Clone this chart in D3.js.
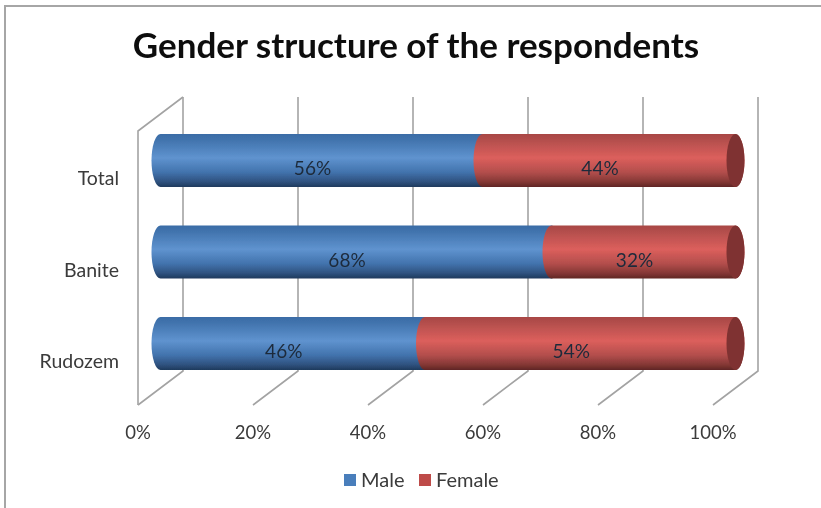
<!DOCTYPE html>
<html><head><meta charset="utf-8">
<script src="https://cdn.jsdelivr.net/npm/d3@7/dist/d3.min.js"></script>
<style>html,body{margin:0;padding:0;background:#fff}svg{display:block}text{font-family:Lato,"Open Sans",sans-serif}</style>
</head><body><div id="c"></div>
<script>
const categories = ["Rudozem", "Banite", "Total"];
const male = [46, 68, 56];
const female = [54, 32, 44];
const ticks = [0, 20, 40, 60, 80, 100];
const seriesNames = ["Male", "Female"];
const W = 821, H = 508;

const svg = d3.select("#c").append("svg").attr("width", W).attr("height", H);
const defs = svg.append("defs");
const soft = defs.append("filter").attr("id", "soft").attr("x", "-5%").attr("y", "-5%").attr("width", "110%").attr("height", "110%");
soft.append("feGaussianBlur").attr("stdDeviation", 0.5);

function grad(id, stops) {
  const g = defs.append("linearGradient").attr("id", id).attr("x1", 0).attr("y1", 0).attr("x2", 0).attr("y2", 1);
  stops.forEach(s => g.append("stop").attr("offset", s[0]).attr("stop-color", s[1]));
}
grad("gM", [[0, "#3a6ca6"], [0.12, "#4274ae"], [0.45, "#5f93cf"], [0.72, "#4273ad"], [0.9, "#2f527f"], [1, "#1e3a5c"]]);
grad("gF", [[0, "#a84644"], [0.12, "#b44f4d"], [0.45, "#dc5f5c"], [0.72, "#b34e4c"], [0.9, "#843735"], [1, "#5f2624"]]);

const root = svg.append("g").attr("filter", "url(#soft)");

root.append("path").attr("d", `M5,${H}V6H${W}`).attr("fill", "none").attr("stroke", "#a6a6a6").attr("stroke-width", 2);

const xFront = d3.scaleLinear().domain([0, 100]).range([138, 713]);
const xBack = d3.scaleLinear().domain([0, 100]).range([183, 758]);
const xBar = d3.scaleLinear().domain([0, 100]).range([160.5, 735.5]);
const xLabel = d3.scaleLinear().domain([0, 100]).range([151.5, 726.5]);
const y = d3.scaleBand().domain(categories).range([370, 134]).paddingInner(0.42).paddingOuter(0);
const rx = 9;
const yTopBack = 97, yTopFront = 131, yBotBack = 371, yBotFront = 405;

const grid = root.append("g").attr("fill", "none").attr("stroke", "#a3a3a3").attr("stroke-width", 1.6);
ticks.forEach(t => {
  grid.append("path").attr("d", `M${xFront(t)},${yBotFront}L${xBack(t)},${yBotBack}V${yTopBack}`);
});
grid.append("path").attr("d", `M${xFront(0)},${yBotFront}V${yTopFront}L${xBack(0)},${yTopBack}`);

const rows = categories.map((c, i) => ({ c, m: male[i], f: female[i] }));
const bars = root.append("g");
rows.forEach(d => {
  const yT = y(d.c), h = y.bandwidth();
  const r = h / 2;
  const xSplit = xBar(d.m), xEnd = xBar(100), xStart = xBar(0);
  // male body: rounded on the left, straight under the female end
  bars.append("path")
    .attr("d", `M${xStart},${yT}L${xSplit + 1},${yT}V${yT + h}H${xStart}A${rx},${r} 0 0 1 ${xStart},${yT}Z`)
    .attr("fill", "url(#gM)");
  // female body: its left end bulges over the male segment
  bars.append("path")
    .attr("d", `M${xSplit},${yT}L${xEnd},${yT}A${rx},${r} 0 0 1 ${xEnd},${yT + h}L${xSplit},${yT + h}A${rx},${r} 0 0 1 ${xSplit},${yT}Z`)
    .attr("fill", "url(#gF)");
  // end cap
  bars.append("ellipse").attr("cx", xEnd).attr("cy", yT + r).attr("rx", rx).attr("ry", r).attr("fill", "#7f3331");
});

const labels = svg.append("g").attr("font-size", 19).attr("text-anchor", "middle").attr("fill", "#1d2a3a").attr("filter", "url(#soft)");
rows.forEach(d => {
  const cy = y(d.c) + y.bandwidth() / 2 + 8;
  labels.append("text").attr("x", xLabel(d.m / 2)).attr("y", cy).attr("dy", "0.35em").text(d.m + "%");
  labels.append("text").attr("x", xLabel(d.m + d.f / 2)).attr("y", cy).attr("dy", "0.35em").text(d.f + "%");
});

const text = svg.append("g").attr("fill", "#3a3a3a").attr("filter", "url(#soft)");
text.append("text").attr("x", 416).attr("y", 58).attr("text-anchor", "middle").attr("font-size", 35).attr("font-weight", 700).attr("fill", "#111").text("Gender structure of the respondents");
categories.forEach(c => {
  text.append("text").attr("x", 119).attr("y", y(c) + y.bandwidth() / 2 + 18).attr("dy", "0.35em").attr("text-anchor", "end").attr("font-size", 19.5).text(c);
});
ticks.forEach(t => {
  text.append("text").attr("x", xFront(t)).attr("y", 433).attr("dy", "0.35em").attr("text-anchor", "middle").attr("font-size", 18.5).text(t + "%");
});

const colorsLeg = ["#4a7ebb", "#be4b48"];
const legX = [344, 419];
seriesNames.forEach((s, i) => {
  text.append("rect").attr("x", legX[i]).attr("y", 474).attr("width", 12).attr("height", 12).attr("fill", colorsLeg[i]);
  text.append("text").attr("x", legX[i] + 17).attr("y", 480).attr("dy", "0.35em").attr("font-size", 20).text(s);
});
</script></body></html>
